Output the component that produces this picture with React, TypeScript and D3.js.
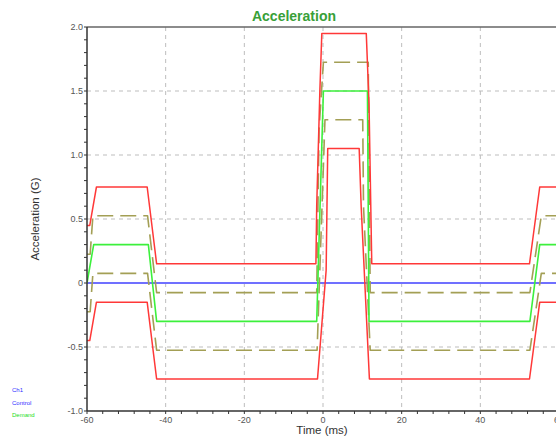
import React from "react";
import * as d3 from "d3";

// time (ms) / acceleration (G) pairs
const demand: [number, number][] = [
  [-60, 0], [-58.3, 0.3], [-44.4, 0.3], [-42.3, -0.3], [-1.6, -0.3],
  [0.1, 1.5], [11.3, 1.5], [11.7, -0.3], [52.6, -0.3], [55.1, 0.3], [62, 0.3],
];
const abortHigh: [number, number][] = [
  [-60, 0.45], [-59.3, 0.45], [-57.6, 0.75], [-44.7, 0.75], [-42.3, 0.15],
  [-1.8, 0.15], [-1.6, 0.6], [-0.8, 1.5], [-0.3, 1.95], [11.0, 1.95],
  [11.7, 1.4], [12.4, 0.15], [52.5, 0.15], [55.1, 0.75], [62, 0.75],
];
const abortLow: [number, number][] = [
  [-60, -0.45], [-59.3, -0.45], [-57.6, -0.15], [-44.7, -0.15], [-42.3, -0.75],
  [-1.4, -0.75], [0.8, 0.1], [1.2, 1.05], [9.2, 1.05], [9.7, 0.6],
  [11.8, -0.75], [52.5, -0.75], [55.1, -0.15], [62, -0.15],
];
const alarmHigh: [number, number][] = [
  [-60, 0.225], [-59.2, 0.225], [-58.5, 0.525], [-44.6, 0.525], [-42.3, -0.075],
  [-1.6, -0.075], [-1.0, 1.2], [0.1, 1.725], [11.5, 1.725], [12.0, -0.075],
  [52.6, -0.075], [55.5, 0.525], [62, 0.525],
];
const alarmLow: [number, number][] = [
  [-60, -0.225], [-59.2, -0.225], [-58.5, 0.075], [-44.6, 0.075], [-42.3, -0.525],
  [-1.5, -0.525], [0.5, 1.275], [10.1, 1.275], [10.3, 0.6], [12.0, -0.525],
  [52.6, -0.525], [55.5, 0.075], [62, 0.075],
];
const control: [number, number][] = [[-60, 0], [62, 0]];

const xTicks = [-60, -40, -20, 0, 20, 40, 60];
const yTicks = [-1.0, -0.5, 0, 0.5, 1.0, 1.5, 2.0];
const yTickLabels = ["-1.0", "-0.5", "0", "0.5", "1.0", "1.5", "2.0"];
const legendItems = [
  { label: "Ch1", color: "#2f2fff" },
  { label: "Control", color: "#2f2fff" },
  { label: "Demand", color: "#22dd22" },
];

const W = 556;
const H = 439;
const left = 87;
const right = 559;
const top = 27;
const bottom = 411;

export default function App() {
  const x = d3.scaleLinear().domain([-60, 60]).range([left, right]);
  const y = d3.scaleLinear().domain([-1, 2]).range([bottom, top]);
  const line = d3
    .line<[number, number]>()
    .x((d) => x(d[0]))
    .y((d) => y(d[1]));

  const xMinor = d3.range(-60, 61, 4);
  const yMinor = d3.range(-10, 21).map((v) => v / 10);
  const font = "Liberation Sans, Arial, sans-serif";

  return (
    <svg
      width={W}
      height={H}
      style={{ position: "absolute", left: 0, top: 0, background: "#fff" }}
      fontFamily={font}
    >
      <defs>
        <clipPath id="plot">
          <rect x={left} y={top} width={right - left} height={bottom - top} />
        </clipPath>
      </defs>

      {/* grid */}
      {xTicks.slice(1, -1).map((t) => (
        <line key={"gx" + t} x1={x(t)} x2={x(t)} y1={top} y2={bottom}
          stroke="#bdbdbd" strokeDasharray="4,4" />
      ))}
      {yTicks.slice(1, -1).map((t) => (
        <line key={"gy" + t} x1={left} x2={right} y1={y(t)} y2={y(t)}
          stroke="#bdbdbd" strokeDasharray="4,4" />
      ))}

      <g clipPath="url(#plot)" fill="none" strokeLinejoin="round">
        <path d={line(control) || ""} stroke="#7070ff" strokeWidth={2} />
        <path d={line(alarmHigh) || ""} stroke="#a39f55" strokeWidth={1.6} strokeDasharray="16,7" />
        <path d={line(alarmLow) || ""} stroke="#a39f55" strokeWidth={1.6} strokeDasharray="16,7" />
        <path d={line(demand) || ""} stroke="#3cf03c" strokeWidth={1.6} />
        <path d={line(abortHigh) || ""} stroke="#ff3838" strokeWidth={1.5} />
        <path d={line(abortLow) || ""} stroke="#ff3838" strokeWidth={1.5} />
      </g>

      {/* frame and axes */}
      <line x1={left} x2={right} y1={top} y2={top} stroke="#666" strokeWidth={1.5} />
      <line x1={right} x2={right} y1={top} y2={bottom} stroke="#666" strokeWidth={1.5} />
      <line x1={left} x2={left} y1={top} y2={bottom} stroke="#333" strokeWidth={1.5} />
      <line x1={left} x2={right} y1={bottom} y2={bottom} stroke="#333" strokeWidth={1.5} />

      {yMinor.map((t) => (
        <line key={"my" + t} x1={left - 3} x2={left} y1={y(t)} y2={y(t)} stroke="#333" />
      ))}
      {xMinor.map((t) => (
        <line key={"mx" + t} x1={x(t)} x2={x(t)} y1={bottom} y2={bottom + 3} stroke="#333" />
      ))}

      {yTicks.map((t, i) => (
        <text key={"ty" + t} x={left - 4} y={y(t)} dy="0.35em" textAnchor="end"
          fontSize={9} fill="#555">
          {yTickLabels[i]}
        </text>
      ))}
      {xTicks.map((t) => (
        <text key={"tx" + t} x={x(t)} y={bottom + 12} textAnchor="middle"
          fontSize={9} fill="#555">
          {t}
        </text>
      ))}

      <text x={294} y={21} textAnchor="middle" fontSize={14} fontWeight="bold" fill="#38a038">
        Acceleration
      </text>
      <text x={322} y={434} textAnchor="middle" fontSize={11.5} fill="#333">
        Time (ms)
      </text>
      <text transform={`translate(39, 219) rotate(-90)`} textAnchor="middle" fontSize={11.5} fill="#333">
        Acceleration (G)
      </text>

      {legendItems.map((d, i) => (
        <text key={d.label} x={12} y={392 + i * 12.5} fontSize={6} fill={d.color}>
          {d.label}
        </text>
      ))}
    </svg>
  );
}
